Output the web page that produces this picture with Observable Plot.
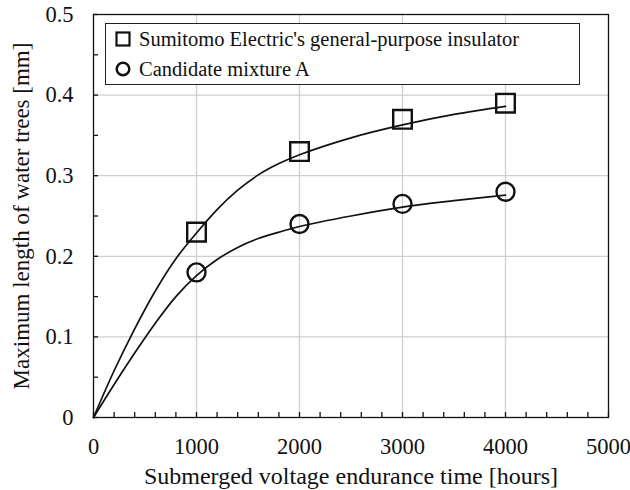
<!DOCTYPE html>
<html>
<head>
<meta charset="utf-8">
<script src="https://cdn.jsdelivr.net/npm/d3@7"></script>
<script src="https://cdn.jsdelivr.net/npm/@observablehq/plot@0.6"></script>
<style>
  body { margin: 0; background: #fff; font-family: "Liberation Serif", Tinos, "Times New Roman", "DejaVu Serif", serif; }
  #wrap { position: relative; width: 630px; height: 490px; }
  #legend { position: absolute; left: 105px; top: 23px; width: 475px; height: 62px; border: 1.5px solid #222; background: #fff; box-sizing: border-box; }
  .item { position: absolute; left: 9px; display: flex; align-items: center; font-size: 20.5px; color: #111; white-space: nowrap; line-height: 1; }
  .item svg { margin-right: 8px; }
  svg text { font-family: "Liberation Serif", Tinos, "Times New Roman", "DejaVu Serif", serif; }
</style>
</head>
<body>
<div id="wrap"></div>
<script>
// Measured points
const hours = [1000, 2000, 3000, 4000];
const sumitomo = [0.23, 0.33, 0.37, 0.39];
const candidate = [0.18, 0.24, 0.265, 0.28];

// Fitted curves
const curveHours = [0, 200, 400, 600, 800, 1000, 1200, 1400, 1600, 1800, 2000, 2500, 3000, 3500, 4000];
const sumitomoCurve = [0, 0.058, 0.11, 0.157, 0.197, 0.229, 0.258, 0.282, 0.301, 0.315, 0.326, 0.347, 0.363, 0.376, 0.386];
const candidateCurve = [0, 0.041, 0.08, 0.117, 0.15, 0.176, 0.196, 0.211, 0.222, 0.23, 0.237, 0.25, 0.261, 0.269, 0.276];

const xMajor = [0, 1000, 2000, 3000, 4000, 5000];
const xMinor = d3.range(0, 5001, 200);
const yMajor = [0, 0.1, 0.2, 0.3, 0.4, 0.5];
const yMinor = d3.range(0, 0.5001, 0.05);
const xGrid = [1000, 2000, 3000, 4000];
const yGrid = [0.1, 0.2, 0.3, 0.4];

const seriesNames = ["Sumitomo Electric's general-purpose insulator", "Candidate mixture A"];
const xTitle = "Submerged voltage endurance time [hours]";
const yTitle = "Maximum length of water trees [mm]";

const FONT = "Liberation Serif, Tinos, Times New Roman, DejaVu Serif, serif";
const pts = (xs, ys) => xs.map((x, i) => ({x, y: ys[i]}));

const chart = Plot.plot({
  width: 630,
  height: 490,
  marginLeft: 93,
  marginRight: 22,
  marginTop: 14,
  marginBottom: 73,
  style: {fontSize: "22px", color: "#111", background: "#fff"},
  x: {domain: [0, 5000]},
  y: {domain: [0, 0.5]},
  marks: [
    Plot.ruleX(xGrid, {stroke: "#cfcfcf", strokeWidth: 1.3}),
    Plot.ruleY(yGrid, {stroke: "#cfcfcf", strokeWidth: 1.3}),
    Plot.axisX({ticks: xMinor, tickSize: -5, tickFormat: () => "", label: null, strokeWidth: 1.3}),
    Plot.axisY({ticks: yMinor, tickSize: -5, tickFormat: () => "", label: null, strokeWidth: 1.3}),
    Plot.axisX({ticks: xMajor, tickSize: 0, tickPadding: 21, tickFormat: d => String(d), label: null, fontSize: 22.5, fontFamily: FONT}),
    Plot.axisY({ticks: yMajor, tickSize: 0, tickPadding: 20, tickFormat: d => d === 0 ? "0" : d3.format(".1f")(d), label: null, fontSize: 22.5, fontFamily: FONT}),
    Plot.frame({stroke: "#111", strokeWidth: 1.3}),
    Plot.line(curveHours.map((x, i) => ({x, y: sumitomoCurve[i]})), {x: "x", y: "y", curve: "catmull-rom", stroke: "#111", strokeWidth: 1.7}),
    Plot.line(curveHours.map((x, i) => ({x, y: candidateCurve[i]})), {x: "x", y: "y", curve: "catmull-rom", stroke: "#111", strokeWidth: 1.7}),
    Plot.dot(pts(hours, sumitomo), {x: "x", y: "y", symbol: "square", r: 10.5, stroke: "#111", strokeWidth: 2.4, fill: "none"}),
    Plot.dot(pts(hours, candidate), {x: "x", y: "y", symbol: "circle", r: 9, stroke: "#111", strokeWidth: 2.4, fill: "none"}),
    Plot.text([xTitle], {frameAnchor: "bottom", lineAnchor: "middle", dy: 59, text: d => d, fontSize: 24, fontFamily: FONT, fill: "#111", textAnchor: "middle"}),
    Plot.text([yTitle], {frameAnchor: "left", lineAnchor: "middle", dx: -72, rotate: -90, text: d => d, fontSize: 23, fontFamily: FONT, fill: "#111", textAnchor: "middle"})
  ]
});

const wrap = document.getElementById("wrap");
wrap.appendChild(chart);

const legend = document.createElement("div");
legend.id = "legend";
const symbols = [
  '<svg width="16" height="16"><rect x="1.5" y="1.5" width="13" height="13" fill="none" stroke="#111" stroke-width="2.2"/></svg>',
  '<svg width="16" height="16"><circle cx="8" cy="8" r="6.3" fill="none" stroke="#111" stroke-width="2.5"/></svg>'
];
seriesNames.forEach((name, i) => {
  const it = document.createElement("div");
  it.className = "item";
  it.style.top = (i === 0 ? 5 : 35) + "px";
  const sym = document.createElement("span");
  sym.innerHTML = symbols[i];
  sym.style.display = "flex";
  const label = document.createElement("span");
  label.textContent = name;
  it.appendChild(sym);
  it.appendChild(label);
  legend.appendChild(it);
});
wrap.appendChild(legend);
</script>
</body>
</html>
